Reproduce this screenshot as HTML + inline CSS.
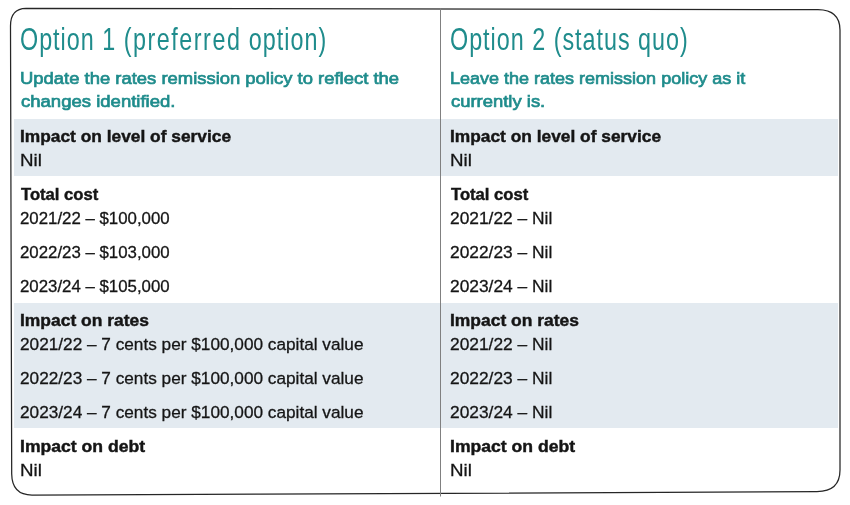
<!DOCTYPE html>
<html><head><meta charset="utf-8"><title>Options</title>
<style>
html,body{margin:0;padding:0;background:#fff;}
body{width:850px;height:505px;position:relative;overflow:hidden;font-family:"Liberation Sans",Arial,sans-serif;}
.band{position:absolute;background:#e3eaf0;}
.t{position:absolute;white-space:nowrap;transform-origin:0 0;-webkit-text-stroke:0.3px currentColor;}
.h{font-weight:400;color:#1f8c8c;-webkit-text-stroke:0;letter-spacing:1.3px;}
.s{font-weight:400;color:#1f8c8c;-webkit-text-stroke:0.7px currentColor;}
.b{font-weight:700;color:#151515;-webkit-text-stroke:0.45px currentColor;}
.n{font-weight:400;color:#151515;}
svg{position:absolute;left:0;top:0;}
h2,h3,p{margin:0;padding:0;}
</style></head><body>

<div class="band" style="left:14px;top:119px;width:824px;height:57px"></div>
<div class="band" style="left:14px;top:303px;width:824px;height:125px"></div>
<section class="col">
<h2 class="t h" style="left:20.30px;top:24.18px;font-size:30.50px;line-height:30.50px;transform:scaleX(0.7650)">Option 1 <span style="letter-spacing:2.0px">(preferred</span> option)</h2>
<p class="t s" style="left:20.20px;top:69.77px;font-size:17.40px;line-height:17.40px;transform:scaleX(1.0598)">Update the rates remission policy to reflect the</p>
<p class="t s" style="left:21.20px;top:93.27px;font-size:17.40px;line-height:17.40px;transform:scaleX(1.0650)">changes identified.</p>
<h3 class="t b" style="left:19.90px;top:128.37px;font-size:17.40px;line-height:17.40px;transform:scaleX(0.9971)">Impact on level of service</h3>
<p class="t n" style="left:19.90px;top:152.37px;font-size:17.40px;line-height:17.40px;transform:scaleX(1.0780)">Nil</p>
<h3 class="t b" style="left:20.90px;top:186.27px;font-size:17.40px;line-height:17.40px;transform:scaleX(0.9556)">Total cost</h3>
<p class="t n" style="left:19.90px;top:210.27px;font-size:17.40px;line-height:17.40px;transform:scaleX(0.9673)">2021/22 – $100,000</p>
<p class="t n" style="left:19.90px;top:244.17px;font-size:17.40px;line-height:17.40px;transform:scaleX(0.9673)">2022/23 – $103,000</p>
<p class="t n" style="left:19.90px;top:278.37px;font-size:17.40px;line-height:17.40px;transform:scaleX(0.9673)">2023/24 – $105,000</p>
<h3 class="t b" style="left:19.90px;top:312.37px;font-size:17.40px;line-height:17.40px;transform:scaleX(1.0032)">Impact on rates</h3>
<p class="t n" style="left:19.90px;top:336.27px;font-size:17.40px;line-height:17.40px;transform:scaleX(0.9896)">2021/22 – 7 cents per $100,000 capital value</p>
<p class="t n" style="left:19.90px;top:370.07px;font-size:17.40px;line-height:17.40px;transform:scaleX(0.9896)">2022/23 – 7 cents per $100,000 capital value</p>
<p class="t n" style="left:19.90px;top:403.97px;font-size:17.40px;line-height:17.40px;transform:scaleX(0.9896)">2023/24 – 7 cents per $100,000 capital value</p>
<h3 class="t b" style="left:19.90px;top:438.17px;font-size:17.40px;line-height:17.40px;transform:scaleX(1.0114)">Impact on debt</h3>
<p class="t n" style="left:19.90px;top:462.07px;font-size:17.40px;line-height:17.40px;transform:scaleX(1.0780)">Nil</p>
</section>
<section class="col">
<h2 class="t h" style="left:449.90px;top:24.18px;font-size:30.50px;line-height:30.50px;transform:scaleX(0.7650)">Option 2 (status quo)</h2>
<p class="t s" style="left:450.00px;top:69.77px;font-size:17.40px;line-height:17.40px;transform:scaleX(1.0352)">Leave the rates remission policy as it</p>
<p class="t s" style="left:451.00px;top:93.27px;font-size:17.40px;line-height:17.40px;transform:scaleX(1.0599)">currently is.</p>
<h3 class="t b" style="left:450.00px;top:128.37px;font-size:17.40px;line-height:17.40px;transform:scaleX(0.9971)">Impact on level of service</h3>
<p class="t n" style="left:450.00px;top:152.37px;font-size:17.40px;line-height:17.40px;transform:scaleX(1.0780)">Nil</p>
<h3 class="t b" style="left:451.00px;top:186.27px;font-size:17.40px;line-height:17.40px;transform:scaleX(0.9556)">Total cost</h3>
<p class="t n" style="left:450.00px;top:210.27px;font-size:17.40px;line-height:17.40px;transform:scaleX(0.9980)">2021/22 – Nil</p>
<p class="t n" style="left:450.00px;top:244.17px;font-size:17.40px;line-height:17.40px;transform:scaleX(0.9980)">2022/23 – Nil</p>
<p class="t n" style="left:450.00px;top:278.37px;font-size:17.40px;line-height:17.40px;transform:scaleX(0.9980)">2023/24 – Nil</p>
<h3 class="t b" style="left:450.00px;top:312.37px;font-size:17.40px;line-height:17.40px;transform:scaleX(1.0032)">Impact on rates</h3>
<p class="t n" style="left:450.00px;top:336.27px;font-size:17.40px;line-height:17.40px;transform:scaleX(0.9980)">2021/22 – Nil</p>
<p class="t n" style="left:450.00px;top:370.07px;font-size:17.40px;line-height:17.40px;transform:scaleX(0.9980)">2022/23 – Nil</p>
<p class="t n" style="left:450.00px;top:403.97px;font-size:17.40px;line-height:17.40px;transform:scaleX(0.9980)">2023/24 – Nil</p>
<h3 class="t b" style="left:450.00px;top:438.17px;font-size:17.40px;line-height:17.40px;transform:scaleX(1.0114)">Impact on debt</h3>
<p class="t n" style="left:450.00px;top:462.07px;font-size:17.40px;line-height:17.40px;transform:scaleX(1.0780)">Nil</p>
</section>
<svg width="850" height="505" viewBox="0 0 850 505">
<path d="M26 8.4 C 200 8.1, 500 8.9, 818 9.6 Q 840 9.9 840 30 L 840 470 Q 840 491.4 817 491.6 C 600 492.5, 300 494.2, 32 495 Q 12 495 11.7 474 L 10.5 26 Q 10.5 8.6 26 8.4 Z" fill="none" stroke="#262626" stroke-width="1.25"/>
<line x1="440.5" y1="8.3" x2="440.5" y2="496.5" stroke="#808080" stroke-width="1"/>
</svg>
</body></html>
